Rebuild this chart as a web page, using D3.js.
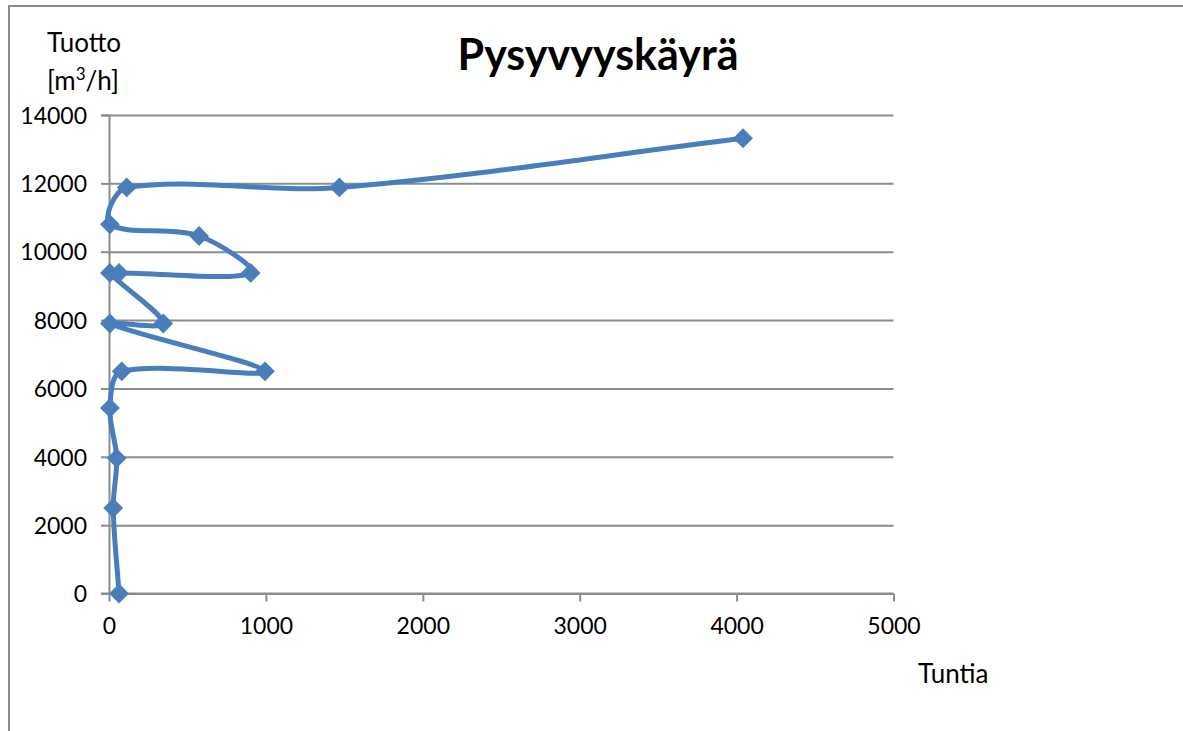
<!DOCTYPE html>
<html>
<head>
<meta charset="utf-8">
<script src="https://cdn.jsdelivr.net/npm/d3@7"></script>
<style>
  html, body { margin: 0; padding: 0; background: #fff; }
  svg { display: block; }
  text { font-family: Lato, "Open Sans", sans-serif; fill: #000; }
</style>
</head>
<body>
<svg id="chart" width="1183" height="731"></svg>
<script>
// Duration curve: hours (x) versus flow rate (y), in recorded order
const hours = [64, 27, 49, 6, 81, 994, 6, 346, 6, 64, 903, 574, 6, 113, 1468, 4041];
const flow  = [0, 2500, 3960, 5430, 6500, 6500, 7900, 7900, 9380, 9380, 9380, 10460, 10800, 11880, 11880, 13320];
const xTicks = [0, 1000, 2000, 3000, 4000, 5000];
const yTicks = [0, 2000, 4000, 6000, 8000, 10000, 12000, 14000];

const title = "Pysyvyyskäyrä";
const xTitle = "Tuntia";

const svg = d3.select("#chart");
const W = 1183, H = 731;
const plotL = 109, plotR = 893.5, plotT = 115, plotB = 593.5;
const grid = "#8c8c8c";
const blue = "#4a7ebb";
const tickFont = 23, labelFont = 26;

// Smoothing in the style of spreadsheet "smoothed lines": Bezier segments whose
// tangents follow the neighbouring points, scaled by the adjacent chord lengths.
function chordSmooth(context) {
  let pts = [];
  return {
    areaStart() {}, areaEnd() {},
    lineStart() { pts = []; },
    point(px, py) { pts.push([+px, +py]); },
    lineEnd() {
      const n = pts.length;
      if (!n) return;
      context.moveTo(pts[0][0], pts[0][1]);
      const dist = (a, b) => Math.hypot(b[0] - a[0], b[1] - a[1]);
      const ctrl = pts.map((p, i) => {
        const prev = pts[Math.max(0, i - 1)], next = pts[Math.min(n - 1, i + 1)];
        const dPrev = dist(prev, p), dNext = dist(p, next);
        const sum = dPrev + dNext || 1;
        const tx = next[0] - prev[0], ty = next[1] - prev[1];
        const kIn = dPrev / sum / 3, kOut = dNext / sum / 3;
        return {
          inC: [p[0] - tx * kIn, p[1] - ty * kIn],
          outC: [p[0] + tx * kOut, p[1] + ty * kOut]
        };
      });
      for (let i = 1; i < n; i++) {
        const a = ctrl[i - 1].outC, b = ctrl[i].inC;
        context.bezierCurveTo(a[0], a[1], b[0], b[1], pts[i][0], pts[i][1]);
      }
    }
  };
}

// outer chart border (only left and top edges fall inside the view)
svg.append("path")
  .attr("d", `M9,${H} V6 H${W}`)
  .attr("fill", "none").attr("stroke", "#8a8a8a").attr("stroke-width", 2);

const x = d3.scaleLinear().domain([0, 5000]).range([plotL, plotR]);
const y = d3.scaleLinear().domain([0, 14000]).range([plotB, plotT]);

// horizontal gridlines with left tick marks
const yAxis = d3.axisLeft(y).tickValues(yTicks).tickSize(8).tickPadding(14)
  .tickFormat(d3.format("d"));
const gy = svg.append("g").attr("transform", `translate(${plotL},0)`).call(yAxis);
gy.select(".domain").attr("stroke", grid).attr("stroke-width", 2);
gy.selectAll(".tick line").attr("stroke", grid).attr("stroke-width", 2);
gy.selectAll(".tick text").attr("font-size", tickFont).attr("dy", "0.36em")
  .style("font-family", "Lato, sans-serif").attr("fill", "#000");
gy.selectAll(".tick").append("line")
  .attr("x1", 0).attr("x2", plotR - plotL)
  .attr("stroke", grid).attr("stroke-width", 2);

const xAxis = d3.axisBottom(x).tickValues(xTicks).tickSize(8).tickPadding(16)
  .tickFormat(d3.format("d"));
const gx = svg.append("g").attr("transform", `translate(0,${plotB})`).call(xAxis);
gx.select(".domain").attr("stroke", grid).attr("stroke-width", 2)
  .attr("d", `M${plotL - 8},0H${plotR}`);
gx.selectAll(".tick line").attr("stroke", grid).attr("stroke-width", 2);
gx.selectAll(".tick text").attr("font-size", tickFont)
  .style("font-family", "Lato, sans-serif").attr("fill", "#000");

// smoothed series line
const pts = hours.map((h, i) => [h, flow[i]]);
const line = d3.line()
  .x(d => x(d[0])).y(d => y(d[1]))
  .curve(chordSmooth);
svg.append("path")
  .attr("d", line(pts))
  .attr("fill", "none").attr("stroke", blue)
  .attr("stroke-width", 5).attr("stroke-linejoin", "round");

// diamond markers
const diamond = d3.symbol().type(d3.symbolDiamond2).size(250);
svg.append("g").selectAll("path").data(pts).join("path")
  .attr("transform", d => `translate(${x(d[0])},${y(d[1])})`)
  .attr("d", diamond)
  .attr("fill", blue);

// titles
svg.append("text").attr("x", 598).attr("y", 70).attr("text-anchor", "middle")
  .attr("font-size", 43).attr("font-weight", "bold").text(title);

svg.append("text").attr("font-size", labelFont).attr("x", 47).attr("y", 52).text("Tuotto");
const l2 = svg.append("text").attr("font-size", labelFont).attr("x", 47).attr("y", 90);
l2.append("tspan").text("[m");
l2.append("tspan").attr("font-size", 17).attr("dy", -10).text("3");
l2.append("tspan").attr("dy", 10).text("/h]");

svg.append("text").attr("x", 918).attr("y", 683).attr("font-size", labelFont).text(xTitle);
</script>
</body>
</html>
